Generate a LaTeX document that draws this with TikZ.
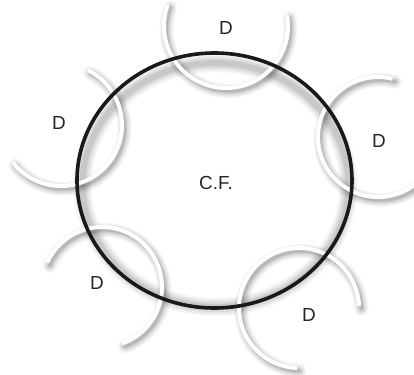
\documentclass[tikz,border=0pt]{standalone}
\usepackage{fontspec}
\setmainfont{Liberation Sans}
\begin{document}
\begin{tikzpicture}[x=1bp,y=1bp,
  lbl/.style={font=\fontsize{19}{21}\selectfont, text=black!85, inner sep=0pt},
  arcshadow/.style={line cap=round, draw=black},
  whitearc/.style={draw=white, line width=4bp, line cap=butt}]
\useasboundingbox (0,0) rectangle (414,375);
\clip (0,0) rectangle (414,375);
\fill[white] (0,0) rectangle (414,375);
% inner shadow of the main ring
\foreach \w/\o in {18/0.04,14/0.05,10/0.06,6/0.08}{
  \draw[black, opacity=\o, line width=\w bp] (215.5,190) ellipse [x radius=133, y radius=122];
}
% shadows of the arcs
\foreach \w/\o in {14/0.04,11/0.05,8/0.06,5/0.08,3/0.08}{
  \begin{scope}[shift={(2.5,-3)}]
  \draw[arcshadow, opacity=\o, line width=\w bp] (226,349) ++(160:62) arc[start angle=160, end angle=370, radius=62];
  \draw[arcshadow, opacity=\o, line width=\w bp] (61,250) ++(64:61) arc[start angle=64, end angle=-142, radius=61];
  \draw[arcshadow, opacity=\o, line width=\w bp] (378,238) ++(76:60) arc[start angle=76, end angle=310, radius=60];
  \draw[arcshadow, opacity=\o, line width=\w bp] (102,88) ++(156:60) arc[start angle=156, end angle=-70, radius=60];
  \draw[arcshadow, opacity=\o, line width=\w bp] (299,67) ++(2:60) arc[start angle=2, end angle=268, radius=60];
  \end{scope}
}
% white arcs
\draw[whitearc] (226,349) ++(160:62) arc[start angle=160, end angle=370, radius=62];
\draw[whitearc] (61,250) ++(64:61) arc[start angle=64, end angle=-142, radius=61];
\draw[whitearc] (378,238) ++(76:60) arc[start angle=76, end angle=310, radius=60];
\draw[whitearc] (102,88) ++(156:60) arc[start angle=156, end angle=-70, radius=60];
\draw[whitearc] (299,67) ++(2:60) arc[start angle=2, end angle=268, radius=60];
% main ring
\draw[black!90, line width=3.6bp] (214.5,194.5) ellipse [x radius=137.5, y radius=127.5];
% labels
\node[lbl] (cf) at (216,192) {C.F.};
\node[lbl] (d1) at (226,347) {D};
\node[lbl] (d2) at (59,252) {D};
\node[lbl] (d3) at (379,234) {D};
\node[lbl] (d4) at (97,92) {D};
\node[lbl] (d5) at (309,60) {D};
\end{tikzpicture}
\end{document}
